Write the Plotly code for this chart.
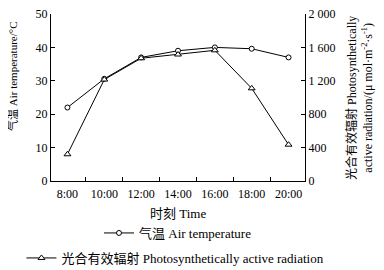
import plotly.graph_objects as go

times = ["8:00", "10:00", "12:00", "14:00", "16:00", "18:00", "20:00"]
air_temp = [22.0, 30.6, 37.0, 39.0, 40.0, 39.6, 37.0]
par = [320, 1215, 1470, 1515, 1565, 1110, 435]
par_ticks = [0, 400, 800, 1200, 1600, 2000]
par_tick_text = ["0", "400", "800", "1 200", "1 600", "2 000"]

FONT = "'Liberation Serif', 'Times New Roman', 'Noto Sans CJK SC', serif"

# page body has an 8px default margin, so the figure is 8px smaller
X0, YB, PW, PH = 51, 181, 254, 167  # plot area in page pixels


def px(x):
    return (x - X0) / PW


def py(y):
    return (YB - y) / PH


fig = go.Figure()
fig.add_trace(go.Scatter(
    x=times, y=air_temp, mode="lines+markers", name="气温 Air temperature",
    line=dict(color="black", width=1),
    marker=dict(symbol="circle", size=5, color="white", line=dict(color="black", width=1)),
    legend="legend", yaxis="y", cliponaxis=False, showlegend=True,
))
fig.add_trace(go.Scatter(
    x=times, y=par, mode="lines+markers", name="光合有效辐射 Photosynthetically active radiation",
    line=dict(color="black", width=1),
    marker=dict(symbol="triangle-up", size=6, color="white", line=dict(color="black", width=1)),
    legend="legend2", yaxis="y2", cliponaxis=False, showlegend=True,
))

axis_common = dict(showline=True, linecolor="black", linewidth=1, ticks="inside",
                   ticklen=4, tickcolor="black", showgrid=False, zeroline=False,
                   ticklabeloverflow="allow",
                   tickfont=dict(family=FONT, size=12, color="black"))

fig.update_layout(
    width=376, height=262,
    margin=dict(l=43, r=79, t=6, b=89, autoexpand=False),
    paper_bgcolor="white", plot_bgcolor="white",
    showlegend=True,
    font=dict(family=FONT, size=12, color="black"),
    xaxis=dict(**axis_common, type="category", tickson="boundaries", ticklabelstandoff=2),
    yaxis=dict(**axis_common, range=[0, 50], dtick=10),
    yaxis2=dict(**axis_common, range=[0, 2000], overlaying="y", side="right",
                tickvals=par_ticks, ticktext=par_tick_text),
    legend=dict(x=0.5, xanchor="center", y=py(233), yanchor="middle",
                bgcolor="rgba(0,0,0,0)", font=dict(family=FONT, size=13),
                itemwidth=30),
    legend2=dict(x=0.49, xanchor="center", y=py(258), yanchor="middle",
                 bgcolor="rgba(0,0,0,0)", font=dict(family=FONT, size=13),
                 itemwidth=30),
    annotations=[
        dict(text="时刻 Time", x=0.5, y=py(213), xref="paper", yref="paper",
             xanchor="center", yanchor="middle", showarrow=False,
             font=dict(family=FONT, size=13)),
        dict(text="气温 Air temperature/°C", x=px(12), y=py(77),
             xref="paper", yref="paper", xanchor="center", yanchor="middle",
             showarrow=False, textangle=-90, font=dict(family=FONT, size=11)),
        dict(text="光合有效辐射 Photosynthetically<br>active radiation/(μ mol·m<sup>-2</sup>·s<sup>-1</sup>)",
             x=px(359), y=py(98), xref="paper", yref="paper", xanchor="center",
             yanchor="middle", showarrow=False, textangle=-90,
             font=dict(family=FONT, size=12)),
    ],
)

fig.write_html("out.html")
